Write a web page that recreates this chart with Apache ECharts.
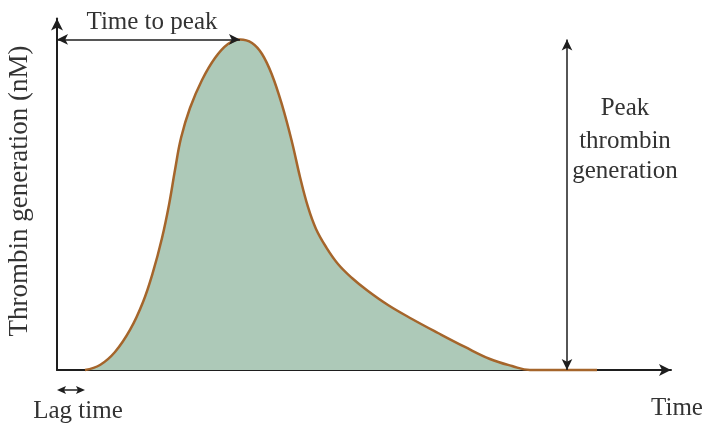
<!DOCTYPE html>
<html><head><meta charset="utf-8">
<script src="https://cdn.jsdelivr.net/npm/echarts@6/dist/echarts.min.js"></script>
<style>html,body{margin:0;padding:0;background:#fff}#c{width:707px;height:428px}</style>
</head><body><div id="c"></div>
<script>
// Time (arbitrary units) and thrombin generation (arbitrary units)
const timeValues = [4.42, 6.79, 9.16, 11.53, 13.59, 15.17, 16.59, 17.69, 18.64, 19.59, 21.01, 22.91, 24.96, 27.01, 28.91, 30.81, 32.39, 33.97, 35.55, 37.12, 38.39, 39.65, 40.92, 42.50, 44.39, 46.60, 49.13, 52.29, 56.08, 60.19, 64.45, 68.40, 71.88, 74.72, 85.31];
const thrombinValues = [0, 1.41, 5.07, 11.27, 19.15, 27.61, 37.18, 46.48, 56.34, 65.35, 73.80, 81.69, 87.89, 91.83, 93.10, 92.11, 89.01, 83.10, 74.65, 64.23, 54.37, 45.92, 39.72, 34.65, 29.86, 25.92, 22.25, 18.31, 14.37, 10.42, 6.48, 3.10, 1.13, 0, 0];
const peakTime = 28.91;
const peakValue = 93.1;
const lagEnd = 4.42;
const peakArrowTime = 80.57;
const xMax = 97;
const yMax = 99;

const FONT = '"Liberation Serif", "Times New Roman", serif';
const TXT = '#333333';
const AX = '#1e1e1e';

const chart = echarts.init(document.getElementById('c'), null, {renderer: 'canvas'});
const seriesData = timeValues.map((t, i) => [t, thrombinValues[i]]);

chart.setOption({
  animation: false,
  backgroundColor: '#ffffff',
  grid: {left: 57, right: 36, top: 18.5, bottom: 58},
  xAxis: {
    type: 'value', min: 0, max: xMax,
    axisLine: {show: true, lineStyle: {color: AX, width: 2}, symbol: ['none', 'arrow'], symbolSize: [9, 12]},
    axisTick: {show: false}, axisLabel: {show: false}, splitLine: {show: false}
  },
  yAxis: {
    type: 'value', min: 0, max: yMax,
    axisLine: {show: true, lineStyle: {color: AX, width: 2}, symbol: ['none', 'arrow'], symbolSize: [9, 12]},
    axisTick: {show: false}, axisLabel: {show: false}, splitLine: {show: false}
  },
  series: [{
    type: 'line',
    data: seriesData,
    smooth: 0.4,
    showSymbol: false,
    clip: false,
    lineStyle: {color: '#a5652b', width: 2.5},
    areaStyle: {color: '#adc9b8', opacity: 1},
    markLine: {
      silent: true,
      symbol: ['arrow', 'arrow'],
      symbolSize: [8, 11],
      label: {show: false},
      lineStyle: {color: AX, width: 1.5, type: 'solid'},
      data: [
        [{coord: [0, peakValue]}, {coord: [peakTime, peakValue]}],
        [{coord: [peakArrowTime, 0]}, {coord: [peakArrowTime, peakValue]}]
      ]
    }
  }]
});

const p0 = chart.convertToPixel({gridIndex: 0}, [0, 0]);
const p1 = chart.convertToPixel({gridIndex: 0}, [lagEnd, 0]);
const ly = p0[1] + 20;
function txt(x, y, s, size, extra) {
  return Object.assign({
    type: 'text', x: x, y: y, silent: true,
    style: {text: s, fill: TXT, font: size + 'px ' + FONT, align: 'center', verticalAlign: 'middle'}
  }, extra || {});
}
chart.setOption({
  graphic: [
    {type: 'line', silent: true, shape: {x1: p0[0] + 3, y1: ly, x2: p1[0] - 3, y2: ly}, style: {stroke: AX, lineWidth: 1.5}},
    {type: 'polygon', silent: true, shape: {points: [[p0[0], ly], [p0[0] + 9, ly - 4], [p0[0] + 7, ly], [p0[0] + 9, ly + 4]]}, style: {fill: AX}},
    {type: 'polygon', silent: true, shape: {points: [[p1[0], ly], [p1[0] - 9, ly - 4], [p1[0] - 7, ly], [p1[0] - 9, ly + 4]]}, style: {fill: AX}},
    txt(152, 22, 'Time to peak', 25),
    txt(78, 411, 'Lag time', 25),
    txt(677, 408, 'Time', 25),
    txt(238, 250, 'ETP', 25),
    txt(625, 108, 'Peak', 25),
    txt(625, 141, 'thrombin', 25),
    txt(625, 171, 'generation', 25),
    txt(20, 191, 'Thrombin generation (nM)', 27, {rotation: Math.PI / 2})
  ]
});
</script>
</body></html>
